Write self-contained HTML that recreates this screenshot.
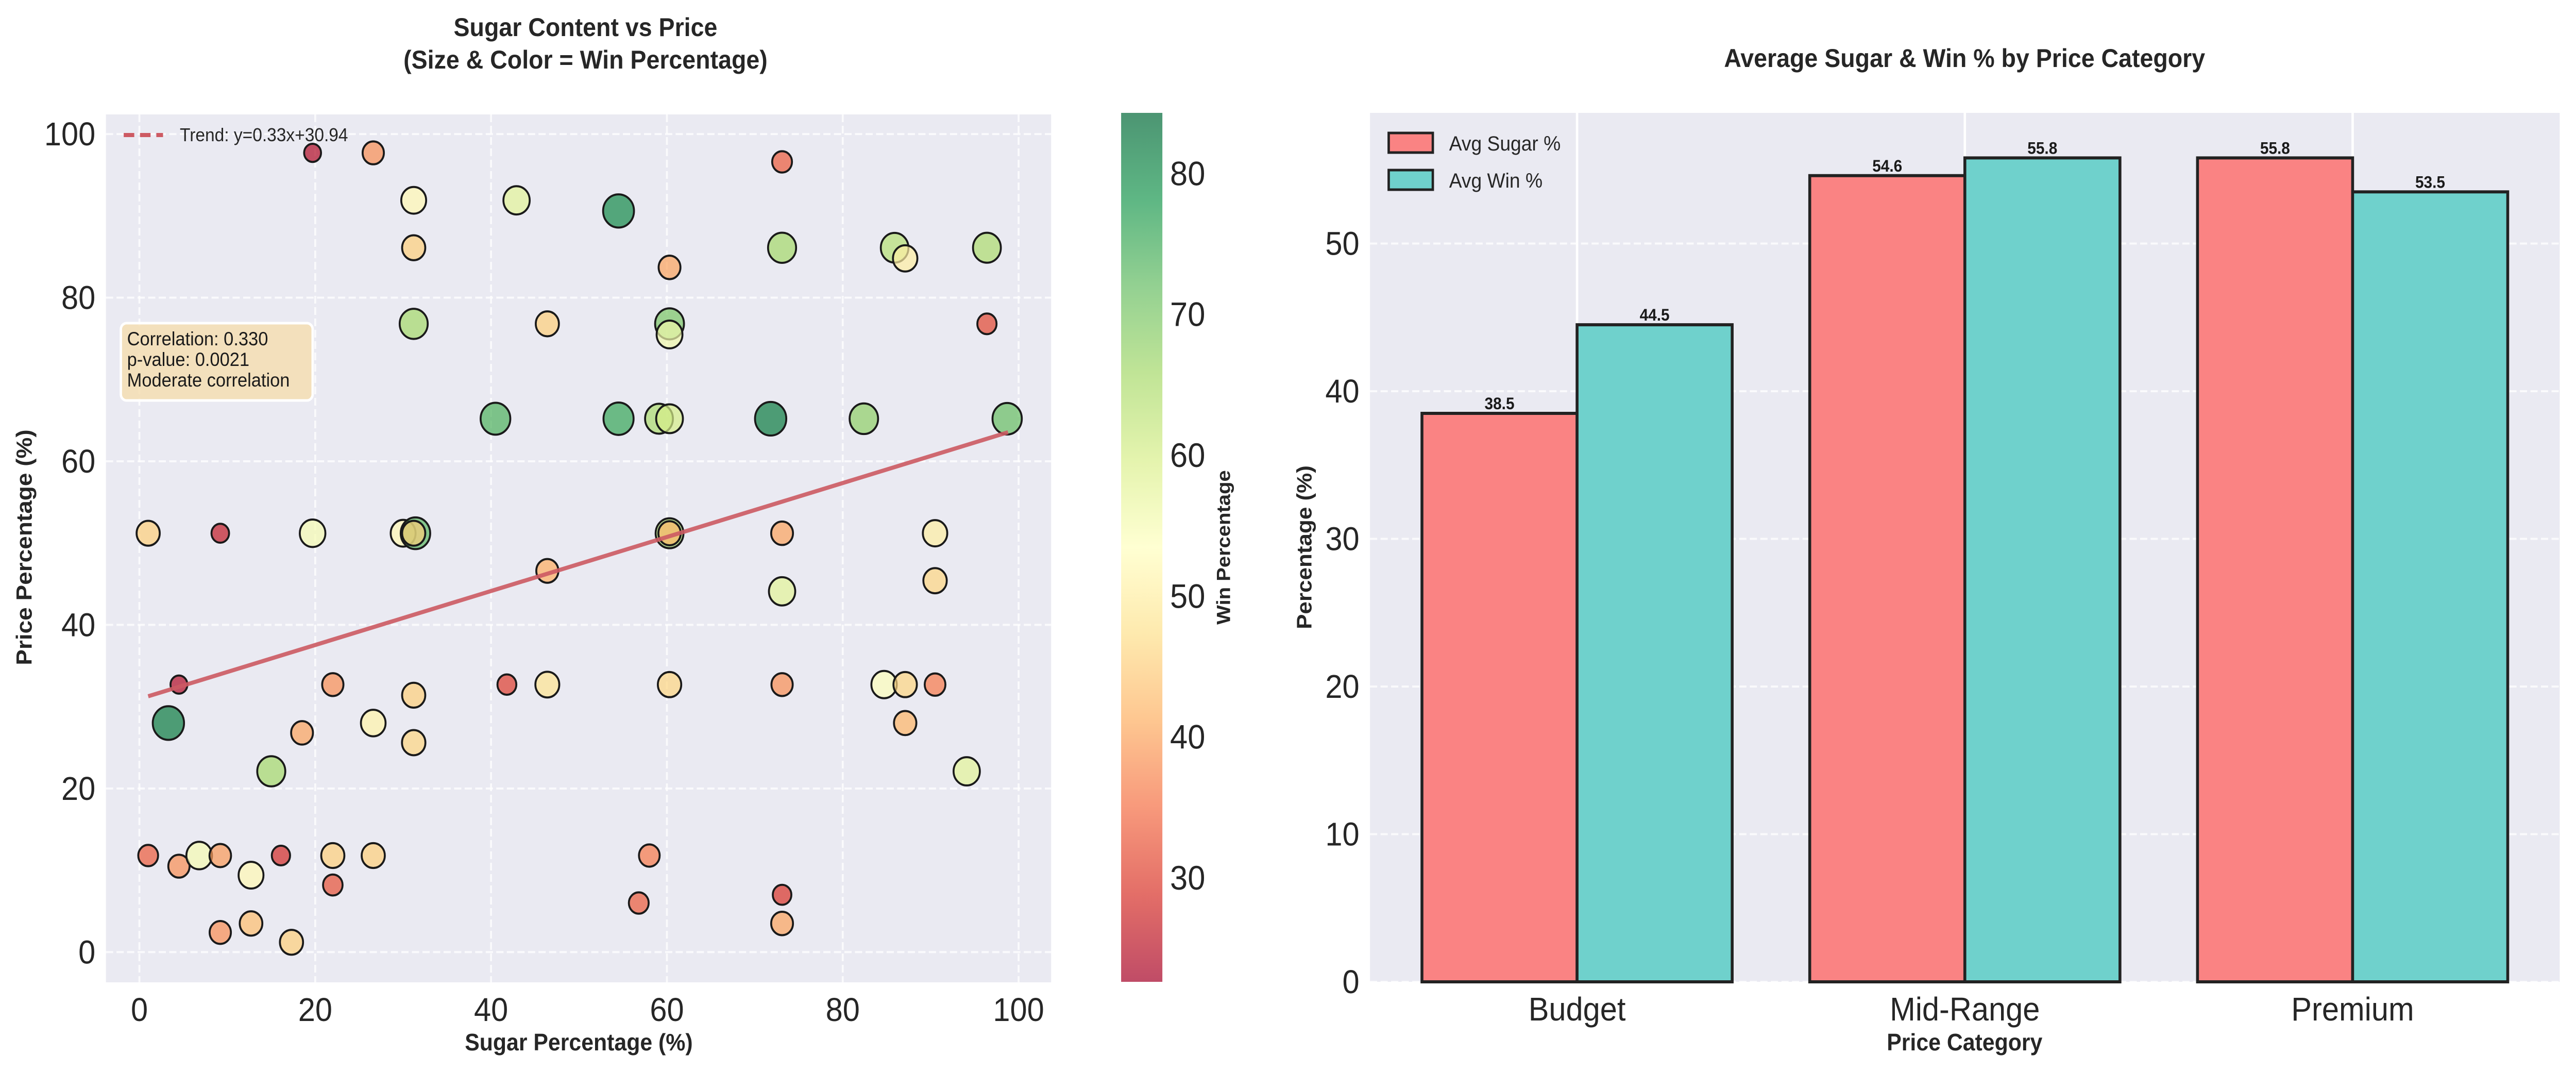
<!DOCTYPE html>
<html><head><meta charset="utf-8">
<style>
html,body{margin:0;padding:0;background:#fff;overflow:hidden;width:100%;height:100%;}
svg{display:block;font-family:"Liberation Sans",sans-serif;width:100vw;height:100vh;}
</style></head>
<body>
<svg id="fig" viewBox="0 0 5372 2078" preserveAspectRatio="none" xmlns="http://www.w3.org/2000/svg">
<defs>
<linearGradient id="cbar" x1="0" y1="1" x2="0" y2="0">
<stop offset="0" stop-color="#a50026"/><stop offset="0.1" stop-color="#d73027"/><stop offset="0.2" stop-color="#f46d43"/><stop offset="0.3" stop-color="#fdae61"/><stop offset="0.4" stop-color="#fee08b"/><stop offset="0.5" stop-color="#ffffbf"/><stop offset="0.6" stop-color="#d9ef8b"/><stop offset="0.7" stop-color="#a6d96a"/><stop offset="0.8" stop-color="#66bd63"/><stop offset="0.9" stop-color="#1a9850"/><stop offset="1" stop-color="#006837"/>
</linearGradient>
</defs>
<g id="left"></g>
<g id="right"></g>
</svg>
<script>
// ---- scatter data ----
const sugarPct = [19.7,26.6,73.1,31.2,42.9,54.5,31.2,73.1,85.9,87.1,96.4,60.3,31.2,46.4,60.3,60.3,96.4,40.5,54.5,59.1,60.3,71.8,82.4,98.7,1.0,9.2,19.7,30.0,31.4,31.2,60.3,60.3,73.1,90.5,46.4,73.1,90.5,4.5,22.0,41.8,46.4,60.3,73.1,84.7,87.1,90.5,31.2,3.3,18.5,26.6,87.1,31.2,15.0,94.1,1.0,4.5,6.8,9.2,16.1,22.0,26.6,12.7,22.0,58.0,56.8,73.1,9.2,12.7,17.3,73.1];
const pricePct = [97.7,97.7,96.6,91.9,91.9,90.6,86.1,86.1,86.1,84.8,86.1,83.7,76.8,76.8,76.8,75.5,76.8,65.2,65.2,65.2,65.2,65.2,65.2,65.2,51.2,51.2,51.2,51.2,51.2,51.2,51.2,51.2,51.2,51.2,46.6,44.1,45.4,32.7,32.7,32.7,32.7,32.7,32.7,32.7,32.7,32.7,31.4,28.0,26.8,28.0,28.0,25.6,22.1,22.1,11.8,10.5,11.8,11.8,11.8,11.8,11.8,9.4,8.2,11.8,6.0,7.0,2.4,3.5,1.2,3.5];
const winPct = [24,38,33,52,58,80,45,66,64,50,65,40,66,45,70,56,31,74,76,65,60,82,68,72,45,26,55,52,73,45,65,42,40,50,41,58,46,24,38,30,48,46,38,54,46,36,45,82,40,51,42,46,66,58,33,38,55,39,28,45,45,52,32,36,33,29,38,43,45,40];
const xTicks = [0,20,40,60,80,100];
const yTicks = [0,20,40,60,80,100];
const cbTicks = [30,40,50,60,70,80];
const trendSlope = 0.33, trendIntercept = 30.94;
// ---- bar data ----
const categories = ["Budget","Mid-Range","Premium"];
const avgSugar = [38.5,54.6,55.8];
const avgWin = [44.5,55.8,53.5];
const barYTicks = [0,10,20,30,40,50];

const NS="http://www.w3.org/2000/svg";
function el(parent,tag,attrs,text){const e=document.createElementNS(NS,tag);for(const k in attrs)e.setAttribute(k,attrs[k]);if(text!==undefined)e.textContent=text;parent.appendChild(e);return e;}

const cstops=["#a50026","#d73027","#f46d43","#fdae61","#fee08b","#ffffbf","#d9ef8b","#a6d96a","#66bd63","#1a9850","#006837"];
function hex(h){return [1,3,5].map(i=>parseInt(h.substr(i,2),16));}
function cmap(t){t=Math.max(0,Math.min(1,t));const p=t*10,i=Math.min(9,Math.floor(p)),f=p-i;const a=hex(cstops[i]),b=hex(cstops[i+1]);return "rgb("+a.map((v,k)=>Math.round(v+(b[k]-v)*f)).join(",")+")";}

const L=document.getElementById('left');
const X0=221,X1=2192,Y0=1906,Y1=222;
const xmin=-3.8,xmax=103.7,ymin=-3.7,ymax=102.4;
const sx=v=>X0+(v-xmin)/(xmax-xmin)*(X1-X0);
const sy=v=>Y0-(v-ymin)/(ymax-ymin)*(Y0-Y1);
let r=el(L,'rect',{x:X0,y:Y1,width:X1-X0,height:Y0-Y1,fill:'#eaeaf2'});


xTicks.forEach(t=>{
  let g=el(L,'line',{x1:sx(t),x2:sx(t),y1:Y1,y2:Y0,stroke:'#fff','stroke-width':4,'stroke-dasharray':'15 7',opacity:0.8});
  
  
  let tx=el(L,'text',{x:sx(t),y:Y0+75,'text-anchor':'middle','font-size':64,fill:'#262626'},t);
  
  
});
yTicks.forEach(t=>{
  let g=el(L,'line',{x1:X0,x2:X1,y1:sy(t),y2:sy(t),stroke:'#fff','stroke-width':4,'stroke-dasharray':'15 7',opacity:0.8});
  
  
  let tx=el(L,'text',{x:X0-22,y:sy(t)+22,'text-anchor':'end','font-size':64,fill:'#262626'},t);
  
  
});
const wmin=22.6,wmax=84.3;
sugarPct.forEach((s,i)=>{
  const w=winPct[i];
  const c=el(L,'circle',{cx:sx(s),cy:sy(pricePct[i]),r:3.6*Math.sqrt(w),fill:cmap((w-wmin)/(wmax-wmin)),'fill-opacity':0.7,stroke:'#1a1a1a','stroke-width':4});
  
  
});
const tl=el(L,'line',{x1:sx(1.0),y1:sy(trendSlope*1.0+trendIntercept),x2:sx(98.8),y2:sy(trendSlope*98.8+trendIntercept),stroke:'#cd5a63','stroke-width':8,opacity:0.9});


let lg=el(L,'line',{x1:258,x2:340,y1:262,y2:262,stroke:'#cd5a63','stroke-width':8,'stroke-dasharray':'22 12'});


let lt=el(L,'text',{x:375,y:274,'font-size':36,fill:'#262626'},'Trend: y=0.33x+30.94');


let cb=el(L,'rect',{x:252,y:627,width:400,height:150,rx:12,fill:'#f5deb3','fill-opacity':0.85,stroke:'#fff','stroke-width':5});


["Correlation: 0.330","p-value: 0.0021","Moderate correlation"].forEach((s,i)=>{
  let t=el(L,'text',{x:265,y:670+i*40,'font-size':37,fill:'#1a1a1a'},s);
  
  
});
let t1=el(L,'text',{x:1221,y:70,'text-anchor':'middle','font-size':50,'font-weight':'bold',fill:'#262626'},'Sugar Content vs Price');


let t2=el(L,'text',{x:1221,y:133,'text-anchor':'middle','font-size':50,'font-weight':'bold',fill:'#262626'},'(Size & Color = Win Percentage)');


let xl=el(L,'text',{x:1207,y:2038,'text-anchor':'middle','font-size':46,'font-weight':'bold',fill:'#262626'},'Sugar Percentage (%)');


let yl=el(L,'text',{x:0,y:0,'text-anchor':'middle','font-size':46,'font-weight':'bold',fill:'#262626',transform:'translate(66,1062) rotate(-90)'},'Price Percentage (%)');


const CB0=1905,CB1=219;
const cy=v=>CB0-(v-wmin)/(wmax-wmin)*(CB0-CB1);
let cbr=el(L,'rect',{x:2338,y:CB1,width:86,height:CB0-CB1,fill:'url(#cbar)','fill-opacity':0.7});


cbTicks.forEach(t=>{
  let tx=el(L,'text',{x:2440,y:cy(t)+23,'font-size':66,fill:'#262626'},t);
  
  
});
let cl=el(L,'text',{x:0,y:0,'text-anchor':'middle','font-size':40,'font-weight':'bold',fill:'#262626',transform:'translate(2565,1062) rotate(-90)'},'Win Percentage');



const R=document.getElementById('right');
const BX0=2857,BX1=5338,BY0=1905,BY1=219;
const bxmin=-0.534,bxmax=2.534,bymax=58.85;
const bx=v=>BX0+(v-bxmin)/(bxmax-bxmin)*(BX1-BX0);
const by=v=>BY0-v/bymax*(BY0-BY1);
let ra=el(R,'rect',{x:BX0,y:BY1,width:BX1-BX0,height:BY0-BY1,fill:'#eaeaf2'});


barYTicks.forEach(t=>{
  let g=el(R,'line',{x1:BX0,x2:BX1,y1:by(t),y2:by(t),stroke:'#fff','stroke-width':4,'stroke-dasharray':'15 7',opacity:0.8});
  
  
  let tx=el(R,'text',{x:BX0-22,y:by(t)+22,'text-anchor':'end','font-size':64,fill:'#262626'},t);
  
  
});
categories.forEach((c,i)=>{
  let g=el(R,'line',{x1:bx(i),x2:bx(i),y1:BY1,y2:BY0,stroke:'#fff','stroke-width':5});
  
  
});
const bw=0.4;
categories.forEach((c,i)=>{
  [[avgSugar,'#fa8383',-bw,'bar-avg-sugar'],[avgWin,'#6fd1cc',0,'bar-avg-win']].forEach(([arr,col,off,nm])=>{
    const v=arr[i];
    const b=el(R,'rect',{x:bx(i+off),y:by(v),width:bx(i+off+bw)-bx(i+off),height:by(0)-by(v),fill:col,stroke:'#222','stroke-width':6});
    
    
    const t=el(R,'text',{x:bx(i+off+bw/2),y:by(v)-8,'text-anchor':'middle','font-size':32,'font-weight':'bold',fill:'#1a1a1a'},v.toFixed(1));
    
    
  });
  let tx=el(R,'text',{x:bx(i),y:BY0+75,'text-anchor':'middle','font-size':64,fill:'#262626'},c);
  
  
});
[['#fa8383','Avg Sugar %'],['#6fd1cc','Avg Win %']].forEach(([col,lab],i)=>{
  let b=el(R,'rect',{x:2896,y:258+i*72,width:92,height:38,fill:col,stroke:'#222','stroke-width':5});
  
  
  let t=el(R,'text',{x:3022,y:292+i*72,'font-size':40,fill:'#262626'},lab);
  
  
});
let bt=el(R,'text',{x:4097,y:130,'text-anchor':'middle','font-size':50,'font-weight':'bold',fill:'#262626'},'Average Sugar & Win % by Price Category');


let bxl=el(R,'text',{x:4097,y:2038,'text-anchor':'middle','font-size':46,'font-weight':'bold',fill:'#262626'},'Price Category');


let byl=el(R,'text',{x:0,y:0,'text-anchor':'middle','font-size':44,'font-weight':'bold',fill:'#262626',transform:'translate(2735,1062) rotate(-90)'},'Percentage (%)');


</script>
</body></html>
